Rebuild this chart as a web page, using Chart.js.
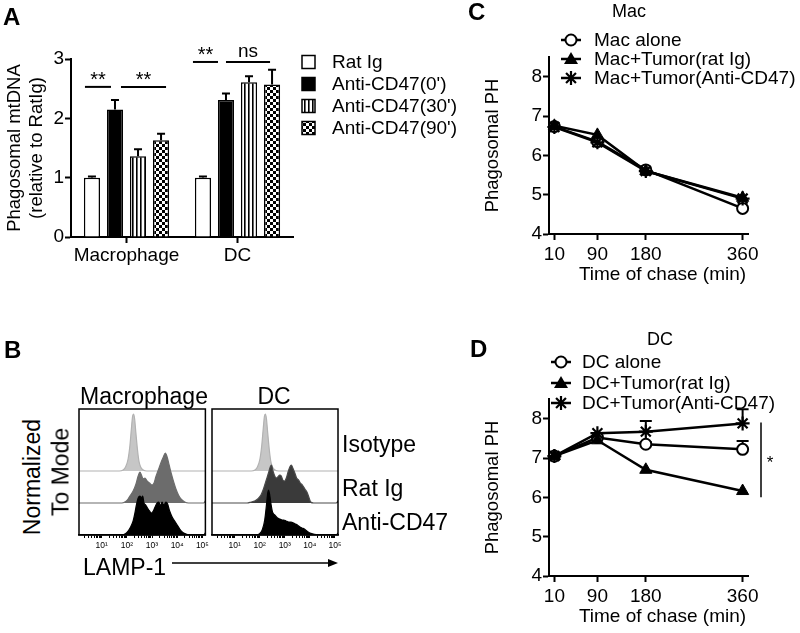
<!DOCTYPE html>
<html><head><meta charset="utf-8">
<script src="https://cdn.jsdelivr.net/npm/chart.js@4.4.1/dist/chart.umd.min.js"></script>
<style>
html,body{margin:0;padding:0;background:#fff;}
body{width:800px;height:633px;position:relative;overflow:hidden;font-family:'Liberation Sans',Arial,sans-serif;color:#000;}
canvas{position:absolute;}
.t{position:absolute;white-space:nowrap;line-height:1;}
.c{transform:translate(-50%,-50%);}
.l{transform:translate(0,-50%);}
.r{transform:translate(-50%,-50%) rotate(-90deg);}
.b{font-weight:bold;font-size:24px;}
</style></head><body>

<canvas id="cA" width="460" height="280" style="left:0;top:0"></canvas>
<canvas id="cC" width="330" height="290" style="left:470px;top:0"></canvas>
<canvas id="cD" width="330" height="290" style="left:470px;top:342px"></canvas>
<canvas id="cB1" width="142" height="160" style="left:70px;top:400px"></canvas>
<canvas id="cB2" width="142" height="160" style="left:203px;top:400px"></canvas>

<div class="t b" style="left:3px;top:5px">A</div>
<div class="t b" style="left:4px;top:338px">B</div>
<div class="t b" style="left:468px;top:0px">C</div>
<div class="t b" style="left:470px;top:337px">D</div>

<div class="t c" style="left:629px;top:11px;font-size:18px">Mac</div>
<div class="t c" style="left:660px;top:339px;font-size:18px">DC</div>

<div class="t c" style="left:144px;top:396px;font-size:23px">Macrophage</div>
<div class="t c" style="left:274px;top:396px;font-size:23px">DC</div>
<div class="t l" style="left:342px;top:444px;font-size:23px">Isotype</div>
<div class="t l" style="left:342px;top:488px;font-size:23px">Rat Ig</div>
<div class="t l" style="left:342px;top:522px;font-size:23px">Anti-CD47</div>
<div class="t r" style="left:32px;top:477px;font-size:23px">Normalized</div>
<div class="t r" style="left:61px;top:472px;font-size:23px">To Mode</div>
<div class="t l" style="left:83px;top:567px;font-size:23px">LAMP-1</div>
<svg style="position:absolute;left:170px;top:556px" width="175" height="14">
  <line x1="2" y1="7" x2="162" y2="7" stroke="#000" stroke-width="1.3"/>
  <polygon points="168,7 158,3 158,11" fill="#000"/>
</svg>

<script>
// ---------------- DATA ----------------
// Panel A
const groupsA = ['Macrophage', 'DC'];
const seriesA = ['Rat Ig', "Anti-CD47(0')", "Anti-CD47(30')", "Anti-CD47(90')"];
const ratIgA = [1.00, 1.00];
const anti0A = [2.15, 2.31];
const anti30A = [1.36, 2.61];
const anti90A = [1.63, 2.57];
const ratIgErrA = [0.02, 0.02];
const anti0ErrA = [0.16, 0.11];
const anti30ErrA = [0.12, 0.10];
const anti90ErrA = [0.11, 0.25];
const yTicksA = [0, 1, 2, 3];
const sigA = [
  {group: 0, from: 0, to: 1, y: 2.53, text: '**'},
  {group: 0, from: 1, to: 3, y: 2.53, text: '**'},
  {group: 1, from: 0, to: 1, y: 2.95, text: '**'},
  {group: 1, from: 1, to: 3, y: 2.95, text: 'ns'}
];

// Panels C and D
const chaseMin = [10, 90, 180, 360];
const phTicks = [4, 5, 6, 7, 8];
const macLabels = ['Mac alone', 'Mac+Tumor(rat Ig)', 'Mac+Tumor(Anti-CD47)'];
const macAlone = [6.73, 6.35, 5.63, 4.65];
const macRatIg = [6.75, 6.52, 5.60, 4.92];
const macAnti = [6.72, 6.33, 5.60, 4.90];
const dcLabels = ['DC alone', 'DC+Tumor(rat Ig)', 'DC+Tumor(Anti-CD47)'];
const dcAlone = [7.05, 7.52, 7.35, 7.22];
const dcRatIg = [7.05, 7.45, 6.70, 6.16];
const dcAnti = [7.05, 7.63, 7.67, 7.88];
const dcAloneErr = [0.03, 0.03, 0.05, 0.21];
const dcRatIgErr = [0, 0, 0, 0];
const dcAntiErr = [0, 0, 0.27, 0.36];
const sigD = {top: 7.9, bottom: 6.0, text: '*'};
const xTitleCD = 'Time of chase (min)';

// Panel B: LAMP-1 histograms [log10 intensity, relative count]
const lampDecades = [1, 2, 3, 4, 5];
const histMacIso = [[0.1,0],[1.7,0],[1.85,1],[1.95,4],[2.05,12],[2.12,25],[2.18,42],[2.23,55],[2.27,57],[2.31,52],[2.36,38],[2.42,22],[2.48,10],[2.55,4],[2.65,1],[2.8,0],[5.12,0]];
const histMacRat = [[0.1,0],[1.8,0],[1.92,1],[2.05,4],[2.15,8],[2.25,12],[2.35,18],[2.45,27],[2.52,31],[2.58,28],[2.65,24],[2.72,25],[2.8,22],[2.9,20],[3.0,18],[3.08,20],[3.15,26],[3.25,33],[3.35,40],[3.45,46],[3.53,50],[3.6,46],[3.68,38],[3.77,29],[3.86,21],[3.95,14],[4.05,8],[4.15,4],[4.3,1],[4.45,0],[5.05,0],[5.12,2]];
const histMacAnti = [[0.1,0],[1.8,0],[1.92,1],[2.05,4],[2.15,8],[2.25,14],[2.32,22],[2.38,30],[2.45,37],[2.52,39],[2.58,37],[2.63,39],[2.68,32],[2.75,30],[2.82,27],[2.9,24],[2.98,22],[3.05,24],[3.12,28],[3.2,32],[3.27,33],[3.33,29],[3.4,33],[3.47,30],[3.55,33],[3.62,31],[3.7,24],[3.8,18],[3.9,14],[4.0,10],[4.1,6],[4.2,3],[4.35,1],[4.5,0],[5.05,0],[5.12,2]];
const histDcIso = [[0.1,0],[1.66,0],[1.81,1],[1.91,4],[2.01,12],[2.08,25],[2.14,42],[2.19,55],[2.23,57],[2.27,52],[2.32,38],[2.38,22],[2.44,10],[2.51,4],[2.61,1],[2.76,0],[5.12,0]];
const histDcRat = [[0.1,0],[1.5,0],[1.66,1],[1.8,2],[1.92,4],[2.05,8],[2.15,14],[2.25,22],[2.35,30],[2.42,36],[2.47,38],[2.53,32],[2.6,27],[2.66,25],[2.72,26],[2.8,28],[2.86,27],[2.92,23],[2.99,22],[3.06,25],[3.13,31],[3.2,36],[3.26,38],[3.32,35],[3.4,30],[3.47,25],[3.55,23],[3.62,20],[3.7,18],[3.8,14],[3.9,10],[3.97,5],[4.03,1],[4.15,0],[5.05,0],[5.12,2]];
const histDcAnti = [[0.1,0],[1.85,0],[1.98,1],[2.1,5],[2.2,15],[2.27,30],[2.32,42],[2.35,45],[2.4,40],[2.45,31],[2.51,23],[2.6,20],[2.71,17],[2.8,16],[2.9,15],[2.96,15],[3.05,14],[3.16,13],[3.25,13],[3.35,12],[3.42,11],[3.5,10],[3.6,8],[3.68,7],[3.78,6],[3.88,4],[4.0,2],[4.15,1],[4.3,0],[5.05,0],[5.12,2]];

// ---------------- STYLE / BUILD ----------------
const F = "'Liberation Sans', Arial, sans-serif";
Chart.defaults.font.family = F;
Chart.defaults.color = '#000';

function makePattern(kind){
  const c = document.createElement('canvas');
  const s = kind === 'stripe' ? 4 : 6;
  c.width = s; c.height = s;
  const g = c.getContext('2d');
  g.fillStyle = '#fff'; g.fillRect(0,0,s,s);
  g.fillStyle = '#000';
  if (kind === 'stripe') { g.fillRect(0,0,1.6,s); }
  else { g.fillRect(0,0,3,3); g.fillRect(3,3,3,3); }
  return document.getElementById('cA').getContext('2d').createPattern(c,'repeat');
}
const fillsA = ['#fff', '#000', makePattern('stripe'), makePattern('checker')];
const valsA = [ratIgA, anti0A, anti30A, anti90A];
const errsA = [ratIgErrA, anti0ErrA, anti30ErrA, anti90ErrA];
const sigOffA = [[-7,-4],[6,5],[-10,-8],[0,-2]];

const plugA = {
  id: 'plugA',
  afterDatasetsDraw(chart){
    const ctx = chart.ctx, ys = chart.scales.y;
    ctx.save();
    ctx.strokeStyle = '#000'; ctx.lineWidth = 2;
    chart.data.datasets.forEach((ds, di) => {
      chart.getDatasetMeta(di).data.forEach((bar, j) => {
        const yt = ys.getPixelForValue(ds.data[j] + errsA[di][j]);
        ctx.beginPath();
        ctx.moveTo(bar.x, bar.y); ctx.lineTo(bar.x, yt);
        ctx.moveTo(bar.x - 4, yt); ctx.lineTo(bar.x + 4, yt);
        ctx.stroke();
      });
    });
    sigA.forEach((s, k) => {
      const b1 = chart.getDatasetMeta(s.from).data[s.group];
      const b2 = chart.getDatasetMeta(s.to).data[s.group];
      const x1 = b1.x + sigOffA[k][0], x2 = b2.x + sigOffA[k][1];
      const yy = ys.getPixelForValue(s.y);
      ctx.lineWidth = 2;
      ctx.beginPath(); ctx.moveTo(x1, yy); ctx.lineTo(x2, yy); ctx.stroke();
      ctx.fillStyle = '#000';
      ctx.textAlign = 'center'; ctx.textBaseline = 'middle';
      if (s.text === 'ns') { ctx.font = '19px ' + F; ctx.fillText(s.text, (x1 + x2) / 2, yy - 10); }
      else { ctx.font = '20px ' + F; ctx.fillText(s.text, (x1 + x2) / 2, yy - 6); }
    });
    const lx = 302, rows = [62, 84, 106, 128];
    seriesA.forEach((name, i) => {
      ctx.fillStyle = fillsA[i];
      ctx.fillRect(lx, rows[i] - 6.5, 13, 13);
      ctx.lineWidth = 1.5; ctx.strokeStyle = '#000';
      ctx.strokeRect(lx, rows[i] - 6.5, 13, 13);
      ctx.fillStyle = '#000';
      ctx.font = '19px ' + F; ctx.textAlign = 'left'; ctx.textBaseline = 'middle';
      ctx.fillText(name, 332, rows[i] + 1);
    });
    ctx.restore();
  }
};

new Chart(document.getElementById('cA'), {
  type: 'bar',
  data: {
    labels: groupsA,
    datasets: seriesA.map((name, i) => ({
      label: name, data: valsA[i], backgroundColor: fillsA[i],
      borderColor: '#000', borderWidth: 1.5,
      categoryPercentage: 0.83, barPercentage: 0.7
    }))
  },
  options: {
    responsive: false, animation: false, events: [],
    layout: {padding: {left: 0, top: 59, right: 167, bottom: 0}},
    plugins: {legend: {display: false}, tooltip: {enabled: false}},
    scales: {
      x: {
        offset: true,
        grid: {offset: false, drawOnChartArea: false, drawTicks: true, tickLength: 6, tickWidth: 2, tickColor: '#000'},
        border: {display: true, color: '#000', width: 2},
        ticks: {font: {size: 19}, color: '#000', padding: 1, maxRotation: 0, minRotation: 0, autoSkip: false},
        afterFit: s => { s.height = 43; }
      },
      y: {
        min: 0, max: 3,
        afterBuildTicks: s => { s.ticks = yTicksA.map(v => ({value: v})); },
        grid: {drawOnChartArea: false, drawTicks: true, tickLength: 6, tickWidth: 2, tickColor: '#000'},
        border: {display: true, color: '#000', width: 2},
        ticks: {font: {size: 19}, color: '#000', padding: 1},
        title: {display: true, text: ['Phagosomal mtDNA', '(relative to RatIg)'], color: '#000',
                font: {size: 18.5, lineHeight: 1.2}, padding: {top: 4, bottom: 0}},
        afterFit: s => { s.width = 71; }
      }
    }
  },
  plugins: [plugA]
});

// ---- C & D ----
function drawMarker(ctx, style, x, y){
  ctx.save();
  ctx.strokeStyle = '#000'; ctx.fillStyle = '#000'; ctx.lineWidth = 2;
  if (style === 'circle') {
    ctx.fillStyle = '#fff';
    ctx.beginPath(); ctx.arc(x, y, 5.5, 0, Math.PI * 2); ctx.fill(); ctx.stroke();
  } else if (style === 'triangle') {
    ctx.beginPath(); ctx.moveTo(x, y - 7); ctx.lineTo(x + 7, y + 5); ctx.lineTo(x - 7, y + 5); ctx.closePath(); ctx.fill();
  } else {
    ctx.lineWidth = 2.2;
    ctx.beginPath();
    for (let k = 0; k < 4; k++) {
      const a = k * Math.PI / 4;
      ctx.moveTo(x - 7 * Math.cos(a), y - 7 * Math.sin(a));
      ctx.lineTo(x + 7 * Math.cos(a), y + 7 * Math.sin(a));
    }
    ctx.stroke();
  }
  ctx.restore();
}

function makeTimeChart(id, labels, series, errs, legendPos, sig){
  const styles = ['circle', 'triangle', 'star'];
  const plug = {
    id: 'plug' + id,
    beforeDatasetsDraw(chart){
      const ctx = chart.ctx, xs = chart.scales.x, ys = chart.scales.y;
      ctx.save(); ctx.strokeStyle = '#000'; ctx.lineWidth = 2;
      errs.forEach((e, di) => {
        if (!e) return;
        e.forEach((v, j) => {
          if (!v) return;
          const x = xs.getPixelForValue(chaseMin[j]);
          const y0 = ys.getPixelForValue(series[di][j]);
          const y1 = ys.getPixelForValue(series[di][j] + v);
          ctx.beginPath(); ctx.moveTo(x, y0); ctx.lineTo(x, y1);
          ctx.moveTo(x - 6, y1); ctx.lineTo(x + 6, y1); ctx.stroke();
        });
      });
      ctx.restore();
    },
    afterDraw(chart){
      const ctx = chart.ctx, ys = chart.scales.y, ca = chart.chartArea;
      ctx.save();
      labels.forEach((name, i) => {
        const y = legendPos.rows[i];
        ctx.strokeStyle = '#000'; ctx.lineWidth = 2.5;
        ctx.beginPath(); ctx.moveTo(legendPos.mx - 10, y); ctx.lineTo(legendPos.mx + 10, y); ctx.stroke();
        drawMarker(ctx, styles[i], legendPos.mx, y);
        ctx.fillStyle = '#000'; ctx.font = '19px ' + F;
        ctx.textAlign = 'left'; ctx.textBaseline = 'middle';
        ctx.fillText(name, legendPos.tx, y + 1);
      });
      // x-axis title (GraphPad places it slightly right of the plot centre)
      ctx.fillStyle = '#000'; ctx.font = '19px ' + F;
      ctx.textAlign = 'center'; ctx.textBaseline = 'middle';
      ctx.fillText(xTitleCD, (ca.left + ca.right) / 2 + 14, ca.bottom + 41);
      if (sig) {
        const x = ca.right + 13;
        ctx.strokeStyle = '#000'; ctx.lineWidth = 1.5;
        ctx.beginPath(); ctx.moveTo(x, ys.getPixelForValue(sig.top)); ctx.lineTo(x, ys.getPixelForValue(sig.bottom)); ctx.stroke();
        ctx.font = '17px ' + F;
        ctx.fillText(sig.text, x + 9, ys.getPixelForValue((sig.top + sig.bottom) / 2) + 3);
      }
      ctx.restore();
    }
  };
  new Chart(document.getElementById(id), {
    type: 'line',
    data: {
      datasets: series.map((vals, i) => ({
        label: labels[i],
        data: chaseMin.map((t, j) => ({x: t, y: vals[j]})),
        borderColor: '#000', borderWidth: 2.5, tension: 0, clip: false,
        pointStyle: styles[i],
        pointRadius: i === 0 ? 5.5 : 7,
        pointBackgroundColor: i === 0 ? '#fff' : '#000',
        pointBorderColor: '#000',
        pointBorderWidth: i === 2 ? 2.2 : (i === 0 ? 2 : 1),
        order: 3 - i
      }))
    },
    options: {
      responsive: false, animation: false, events: [],
      layout: {padding: {left: 0, top: 57, right: 52, bottom: 0}},
      plugins: {legend: {display: false}, tooltip: {enabled: false}},
      scales: {
        x: {
          type: 'linear', min: 0, max: 370,
          afterBuildTicks: s => { s.ticks = chaseMin.map(v => ({value: v})); },
          grid: {drawOnChartArea: false, drawTicks: true, tickLength: 6, tickWidth: 2, tickColor: '#000'},
          border: {display: true, color: '#000', width: 2},
          ticks: {font: {size: 19}, color: '#000', padding: 3, autoSkip: false, maxRotation: 0},
          afterFit: s => { s.height = 56; }
        },
        y: {
          min: 4, max: 8.5,
          afterBuildTicks: s => { s.ticks = phTicks.map(v => ({value: v})); },
          grid: {drawOnChartArea: false, drawTicks: true, tickLength: 6, tickWidth: 2, tickColor: '#000'},
          border: {display: true, color: '#000', width: 2},
          ticks: {font: {size: 19}, color: '#000', padding: 1},
          title: {display: true, text: 'Phagosomal PH', color: '#000', font: {size: 18.5, lineHeight: 1.2}, padding: {top: 12, bottom: 0}},
          afterFit: s => { s.width = 79; }
        }
      }
    },
    plugins: [plug]
  });
}

makeTimeChart('cC', macLabels, [macAlone, macRatIg, macAnti], [null, null, null],
  {mx: 101, tx: 124, rows: [40, 59, 78]}, null);
makeTimeChart('cD', dcLabels, [dcAlone, dcRatIg, dcAnti], [dcAloneErr, dcRatIgErr, dcAntiErr],
  {mx: 91, tx: 112, rows: [20, 41, 61]}, sigD);

// ---- B ----
const sup = ['', '\u00b9', '\u00b2', '\u00b3', '\u2074', '\u2075'];
function makeHist(id, hists, padRight){
  const framePlug = {
    id: 'frame' + id,
    afterDraw(chart){
      const ctx = chart.ctx, a = chart.chartArea;
      ctx.save(); ctx.strokeStyle = '#000'; ctx.lineWidth = 1.5;
      ctx.strokeRect(a.left, a.top, a.right - a.left, a.bottom - a.top);
      ctx.restore();
    }
  };
  new Chart(document.getElementById(id), {
    type: 'line',
    data: {
      datasets: hists.map((h, i) => ({
        data: h.pts.map(p => ({x: p[0], y: h.offset + p[1]})),
        fill: {value: h.offset},
        backgroundColor: h.fill, borderColor: h.line, borderWidth: 1.2,
        pointRadius: 0, cubicInterpolationMode: 'monotone',
        order: hists.length - i
      }))
    },
    options: {
      responsive: false, animation: false, events: [],
      layout: {padding: {left: 9, top: 9, right: padRight, bottom: 0}},
      plugins: {legend: {display: false}, tooltip: {enabled: false}},
      scales: {
        x: {
          type: 'linear', min: 0.1, max: 5.12,
          afterBuildTicks: s => {
            const t = [];
            for (let d = 0; d <= 5; d++) {
              for (let k = 1; k <= 9; k++) {
                const v = d + Math.log10(k);
                if (v >= 0.1 && v <= 5.12) t.push({value: v});
                if (d === 5) break;
              }
            }
            s.ticks = t;
          },
          grid: {drawOnChartArea: false, drawTicks: true, tickLength: 3, tickWidth: 1, tickColor: '#000'},
          border: {display: true, color: '#000', width: 1.5},
          ticks: {font: {size: 8.5}, color: '#000', padding: 3, autoSkip: false, maxRotation: 0,
                  callback: v => (Number.isInteger(v) && lampDecades.includes(v)) ? '10' + sup[v] : ''},
          afterFit: s => { s.height = 25; }
        },
        y: {display: false, min: 0, max: 126}
      }
    },
    plugins: [framePlug]
  });
}
makeHist('cB1', [
  {pts: histMacIso, offset: 64, fill: '#c6c6c6', line: '#b2b2b2'},
  {pts: histMacRat, offset: 32, fill: '#6c6c6c', line: '#6c6c6c'},
  {pts: histMacAnti, offset: 0, fill: '#000', line: '#000'}
], 6);
makeHist('cB2', [
  {pts: histDcIso, offset: 64, fill: '#c6c6c6', line: '#b2b2b2'},
  {pts: histDcRat, offset: 32, fill: '#3a3a3a', line: '#4a4a4a'},
  {pts: histDcAnti, offset: 0, fill: '#000', line: '#000'}
], 7);
</script>
</body></html>
